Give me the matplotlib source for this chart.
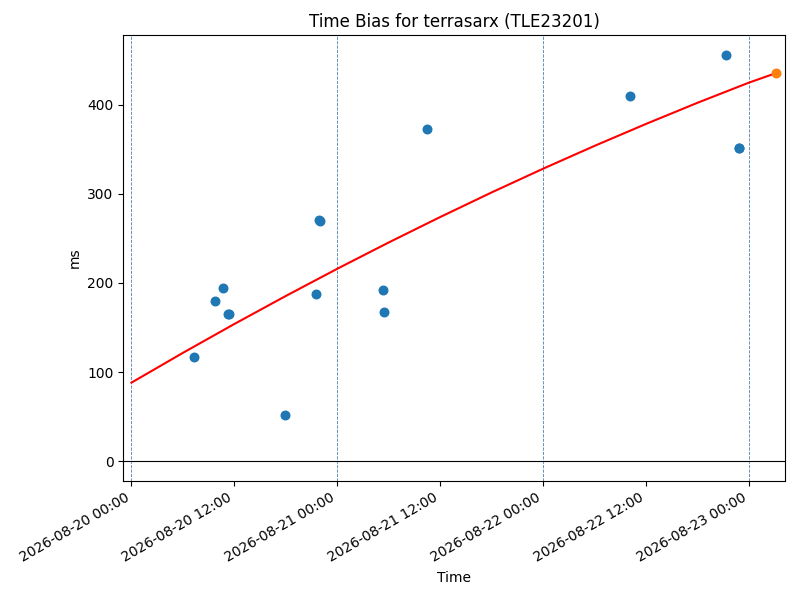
import datetime as dt

import matplotlib
matplotlib.use("Agg")
import matplotlib.dates as mdates
import matplotlib.pyplot as plt

# measured time bias samples (ms)
obs_times = [
    "2026-08-20 07:20", "2026-08-20 09:47", "2026-08-20 10:43",
    "2026-08-20 11:18", "2026-08-20 11:24", "2026-08-20 17:56",
    "2026-08-20 21:33", "2026-08-20 21:52", "2026-08-20 21:56",
    "2026-08-21 05:21", "2026-08-21 05:28", "2026-08-21 10:27",
    "2026-08-22 10:06", "2026-08-22 21:19", "2026-08-22 22:49",
    "2026-08-22 22:52",
]
obs_bias = [117, 180, 194, 165, 165, 52, 188, 271, 270, 192, 167, 373,
            410, 455, 351, 351]

fit_times = [
    "2026-08-20 00:00", "2026-08-20 06:00", "2026-08-20 12:00",
    "2026-08-20 18:00", "2026-08-21 00:00", "2026-08-21 06:00",
    "2026-08-21 12:00", "2026-08-21 18:00", "2026-08-22 00:00",
    "2026-08-22 06:00", "2026-08-22 12:00", "2026-08-22 18:00",
    "2026-08-23 00:00", "2026-08-23 03:07",
]
fit_bias = [88.3, 121.7, 154.1, 185.5, 216.0, 245.5, 274.0, 301.6,
            328.2, 353.8, 378.4, 402.1, 424.7, 435.2]

# predicted point at the end of the fit
pred_time = "2026-08-23 03:07"
pred_bias = 435

day_lines = ["2026-08-20", "2026-08-21", "2026-08-22", "2026-08-23"]


def parse(s):
    fmt = "%Y-%m-%d %H:%M" if " " in s else "%Y-%m-%d"
    return dt.datetime.strptime(s, fmt)


fig, ax = plt.subplots(figsize=(8, 6), dpi=100)
fig.subplots_adjust(left=0.154, right=0.981, top=0.9417, bottom=0.1983)

for d in day_lines:
    ax.axvline(parse(d), color="#4a7fb0", lw=0.6, ls="--", zorder=0)
ax.axhline(0, color="black", lw=0.8, zorder=1)

ax.plot([parse(t) for t in fit_times], fit_bias, color="red", lw=1.5, zorder=2)
ax.scatter([parse(t) for t in obs_times], obs_bias, color="C0", s=38, zorder=3)
ax.scatter([parse(pred_time)], [pred_bias], color="C1", s=38, zorder=3)

ax.set_xlim(parse("2026-08-20 00:00") - dt.timedelta(minutes=58),
            parse("2026-08-23 04:09"))
ax.set_ylim(-22, 478)

ax.xaxis.set_major_locator(mdates.HourLocator(byhour=[0, 12]))
ax.xaxis.set_major_formatter(mdates.DateFormatter("%Y-%m-%d %H:%M"))
for lbl in ax.get_xticklabels():
    lbl.set_rotation(30)
    lbl.set_ha("right")

ax.set_title("Time Bias for terrasarx (TLE23201)")
ax.set_xlabel("Time")
ax.set_ylabel("ms")

fig.savefig("out.png", dpi=100)
